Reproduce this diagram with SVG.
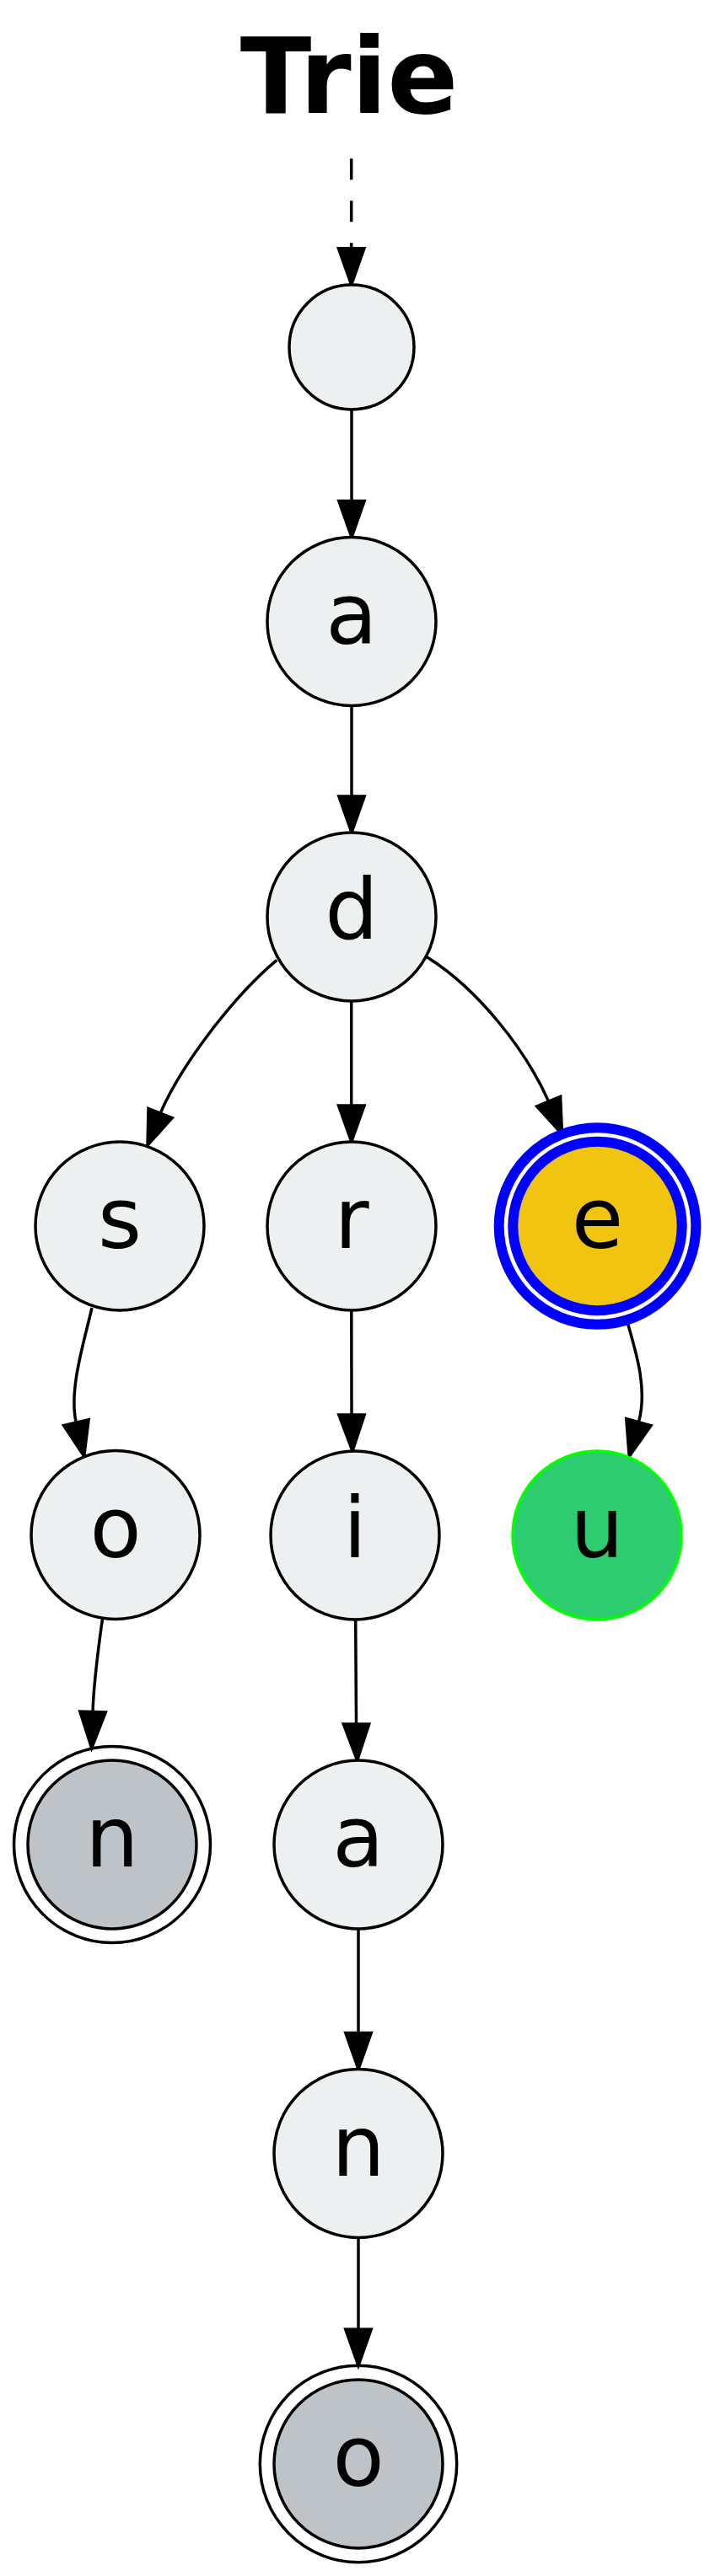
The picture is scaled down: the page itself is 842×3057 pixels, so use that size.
<svg xmlns="http://www.w3.org/2000/svg" width="842" height="3057" viewBox="0 0 842 3057">
<style>
.bg{fill:#ffffff}
.nd{fill:#ecf0f1;stroke:#000000;stroke-width:3.5}
.fin{fill:#bdc3c7;stroke:#000000;stroke-width:3.5}
.ring{fill:none;stroke:#000000;stroke-width:3.5}
.cur{fill:#f1c40f;stroke:#0000ff;stroke-width:12}
.curring{fill:none;stroke:#0000ff;stroke-width:12}
.nxt{fill:#2ecc71;stroke:#00ff00;stroke-width:3.5}
.lbl{font-family:"DejaVu Sans","Liberation Sans",sans-serif;font-size:100px;fill:#000000;text-anchor:middle}
.title{font-family:"DejaVu Sans","Liberation Sans",sans-serif;font-size:124px;font-weight:bold;fill:#000000;text-anchor:middle}
.e{fill:none;stroke:#000000;stroke-width:3.5}
.dash{stroke-dasharray:25,25}
.ah{fill:#000000;stroke:#000000;stroke-width:3.5;stroke-miterlimit:10}
</style>
<rect class="bg" x="0" y="0" width="842" height="3057"/>
<g id="title">
<text class="title" x="414" y="133.5">Trie</text>
</g>
<g id="edges">
<path class="e dash" d="M416.7,188.3 L416.7,294.8"/>
<polygon class="ah" points="401.5,294.8 416.7,338 431.9,294.8"/>
<path class="e" d="M417,486 L417,594.5"/>
<polygon class="ah" points="401.8,594.5 417,637.5 432.2,594.5"/>
<path class="e" d="M417,837.5 L417,945"/>
<polygon class="ah" points="401.8,945 417,988 432.2,945"/>
<path class="e" d="M328.3,1139.3 C278.3,1180.9 216.1,1261.5 190.1,1321.1"/>
<polygon class="ah" points="204.2,1326.7 175,1359 176,1315.5"/>
<path class="e" d="M416.7,1188 L416.7,1312"/>
<polygon class="ah" points="401.5,1312 416.8,1355 432,1312"/>
<path class="e" d="M505,1135 C567,1173 624,1247 650.6,1307.1"/>
<polygon class="ah" points="664.6,1301.3 666.5,1345.7 636.6,1312.9"/>
<path class="e" d="M109,1552 C100.2,1591 81.2,1649.2 90.3,1688.2"/>
<polygon class="ah" points="105.1,1684.75 99.7,1728.2 75.5,1691.65"/>
<path class="e" d="M416.8,1555 L417,1679"/>
<polygon class="ah" points="401.8,1679 418,1722 432.2,1679"/>
<path class="e" d="M744,1569 C755.2,1607.4 768,1649.1 757.4,1687.7"/>
<polygon class="ah" points="772.05,1691.7 746.2,1728.3 742.75,1683.7"/>
<path class="e" d="M121.5,1921 C116,1960 111,2000 110,2031.5"/>
<polygon class="ah" points="125.2,2032 108.7,2074.5 94.8,2031"/>
<path class="e" d="M421.7,1922 L422.5,2046"/>
<polygon class="ah" points="407.3,2046 423.6,2089 437.7,2046"/>
<path class="e" d="M425,2289 L425,2412.5"/>
<polygon class="ah" points="409.8,2412.5 425,2455.5 440.2,2412.5"/>
<path class="e" d="M425,2655.5 L425,2764.3"/>
<polygon class="ah" points="409.8,2764.3 425,2807.3 440.2,2764.3"/>
</g>
<g id="node-root">
<circle class="nd" cx="417" cy="412" r="74"/>
</g>
<g id="node-a">
<circle class="nd" cx="417" cy="737.5" r="100"/>
<text class="lbl" x="417" y="764">a</text>
</g>
<g id="node-d">
<circle class="nd" cx="417" cy="1088" r="100"/>
<text class="lbl" x="417" y="1114">d</text>
</g>
<g id="node-s">
<circle class="nd" cx="142" cy="1455" r="100"/>
<text class="lbl" x="142" y="1481">s</text>
</g>
<g id="node-r">
<circle class="nd" cx="417" cy="1455" r="100"/>
<text class="lbl" x="417" y="1481">r</text>
</g>
<g id="node-e">
<circle class="curring" cx="708.5" cy="1455" r="116.8"/>
<circle class="cur" cx="708.5" cy="1455" r="100.2"/>
<text class="lbl" x="708.5" y="1481">e</text>
</g>
<g id="node-o">
<circle class="nd" cx="137" cy="1821.5" r="100"/>
<text class="lbl" x="137" y="1847.5">o</text>
</g>
<g id="node-i">
<circle class="nd" cx="421" cy="1822" r="100"/>
<text class="lbl" x="421" y="1848">i</text>
</g>
<g id="node-u">
<circle class="nxt" cx="708" cy="1822" r="100"/>
<text class="lbl" x="708" y="1848">u</text>
</g>
<g id="node-n">
<circle class="ring" cx="133" cy="2189" r="116.5"/>
<circle class="fin" cx="133" cy="2189" r="100"/>
<text class="lbl" x="133" y="2215">n</text>
</g>
<g id="node-a2">
<circle class="nd" cx="425" cy="2189" r="100"/>
<text class="lbl" x="425" y="2215">a</text>
</g>
<g id="node-n2">
<circle class="nd" cx="425" cy="2555.5" r="100"/>
<text class="lbl" x="425" y="2581.5">n</text>
</g>
<g id="node-o2">
<circle class="ring" cx="425" cy="2924" r="116.7"/>
<circle class="fin" cx="425" cy="2924" r="100"/>
<text class="lbl" x="425" y="2950">o</text>
</g>
</svg>
